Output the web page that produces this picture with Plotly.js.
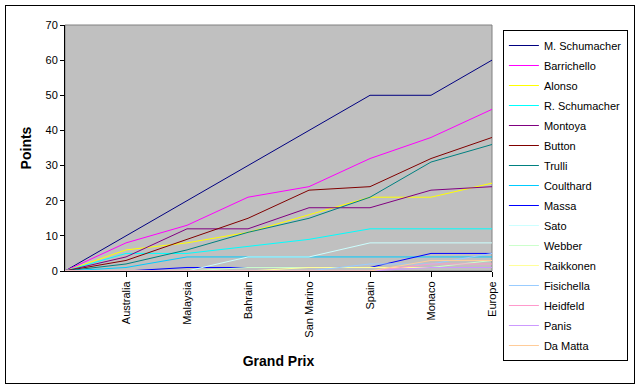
<!DOCTYPE html>
<html>
<head>
<meta charset="utf-8">
<script src="https://cdn.plot.ly/plotly-3.0.1.min.js"></script>
<style>
  html, body { margin: 0; padding: 0; background: #ffffff; }
  #chart { width: 640px; height: 390px; }
  #frame { position: absolute; left: 5px; top: 5px; width: 628px; height: 377px; border: 1px solid #000; pointer-events: none; }
</style>
</head>
<body>
<div id="chart"></div>
<div id="frame"></div>
<script>
// Grand Prix categories (first point is the season start, unlabeled)
const startCat = "Start";
const races = ["Australia", "Malaysia", "Bahrain", "San Marino", "Spain", "Monaco", "Europe"];

// Cumulative points after each race (starting at 0)
const drivers = ["M. Schumacher", "Barrichello", "Alonso", "R. Schumacher", "Montoya", "Button", "Trulli", "Coulthard",
                 "Massa", "Sato", "Webber", "Raikkonen", "Fisichella", "Heidfeld", "Panis", "Da Matta"];
const mSchumacher = [0, 10, 20, 30, 40, 50, 50, 60];
const barrichello = [0, 8, 13, 21, 24, 32, 38, 46];
const alonso      = [0, 6, 8, 11, 16, 21, 21, 25];
const rSchumacher = [0, 5, 5, 7, 9, 12, 12, 12];
const montoya     = [0, 4, 12, 12, 18, 18, 23, 24];
const button      = [0, 3, 9, 15, 23, 24, 32, 38];
const trulli      = [0, 2, 6, 11, 15, 21, 31, 36];
const coulthard   = [0, 1, 4, 4, 4, 4, 4, 4];
const massa       = [0, 0, 1, 1, 1, 1, 5, 5];
const sato        = [0, 0, 0, 4, 4, 8, 8, 8];
const webber      = [0, 0, 0, 1, 1, 1, 1, 3];
const raikkonen   = [0, 0, 0, 0, 1, 1, 1, 1];
const fisichella  = [0, 0, 0, 0, 0, 2, 2, 5];
const heidfeld    = [0, 0, 0, 0, 0, 0, 2, 2];
const panis       = [0, 0, 0, 0, 0, 0, 1, 1];
const daMatta     = [0, 0, 0, 0, 0, 0, 3, 3];

const series = [mSchumacher, barrichello, alonso, rSchumacher, montoya, button, trulli, coulthard,
                massa, sato, webber, raikkonen, fisichella, heidfeld, panis, daMatta];
const colors = ["#000080", "#ff00ff", "#ffff00", "#00ffff", "#800080", "#800000", "#008080", "#00ccff",
                "#0000ff", "#ccffff", "#ccffcc", "#ffff99", "#99ccff", "#ff99cc", "#cc99ff", "#ffcc99"];

const xCats = [startCat].concat(races);
const font = "Liberation Sans, Arial, sans-serif";

const traces = drivers.map((name, i) => ({
  type: "scatter",
  mode: "lines",
  name: name,
  x: xCats,
  y: series[i],
  legendgroup: "g" + i,
  line: { color: colors[i], width: 1 },
  hoverinfo: "x+y+name"
}));

const ml = 65, mr = 144, mt = 25, mb = 119;
const pw = 640 - ml - mr, ph = 390 - mt - mb;

const layout = {
  width: 640,
  height: 390,
  margin: { l: ml, r: mr, t: mt, b: mb, pad: 0 },
  paper_bgcolor: "#ffffff",
  plot_bgcolor: "#c0c0c0",
  font: { family: font, size: 11, color: "#000" },
  showlegend: true,
  legend: {
    x: (507 - ml) / pw,
    xanchor: "left",
    y: (271 - 30) / ph,
    yanchor: "top",
    bgcolor: "#ffffff",
    bordercolor: "#000000",
    borderwidth: 1,
    font: { family: font, size: 11, color: "#000" },
    tracegroupgap: 1,
    traceorder: "grouped",
    maxheight: 390
  },
  xaxis: {
    type: "category",
    categoryorder: "array",
    categoryarray: xCats,
    range: [0, xCats.length - 1],
    tickmode: "array",
    tickvals: races,
    ticktext: races,
    tickangle: -90,
    ticks: "outside",
    ticklen: 5,
    tickcolor: "#000",
    showline: true,
    linecolor: "#000",
    linewidth: 1,
    showgrid: false,
    zeroline: false,
    tickfont: { family: font, size: 11, color: "#000" },
    title: { text: "Grand Prix", font: { family: font, size: 14, color: "#000", weight: "bold" }, standoff: 19 },
    automargin: false,
    fixedrange: true
  },
  yaxis: {
    range: [0, 70],
    tickmode: "linear",
    tick0: 0,
    dtick: 10,
    ticks: "outside",
    ticklen: 4,
    tickcolor: "#000",
    showline: true,
    linecolor: "#000",
    linewidth: 1,
    showgrid: false,
    zeroline: false,
    tickfont: { family: font, size: 11, color: "#000" },
    title: { text: "Points", font: { family: font, size: 14, color: "#000", weight: "bold" }, standoff: 10 },
    automargin: false,
    fixedrange: true
  },
  shapes: [{
    type: "rect", xref: "paper", yref: "paper", x0: 0, x1: 1, y0: 0, y1: 1,
    line: { color: "#808080", width: 1 }, fillcolor: "rgba(0,0,0,0)", layer: "below"
  }]
};

Plotly.newPlot("chart", traces, layout, { displayModeBar: false, staticPlot: true });
</script>
</body>
</html>
